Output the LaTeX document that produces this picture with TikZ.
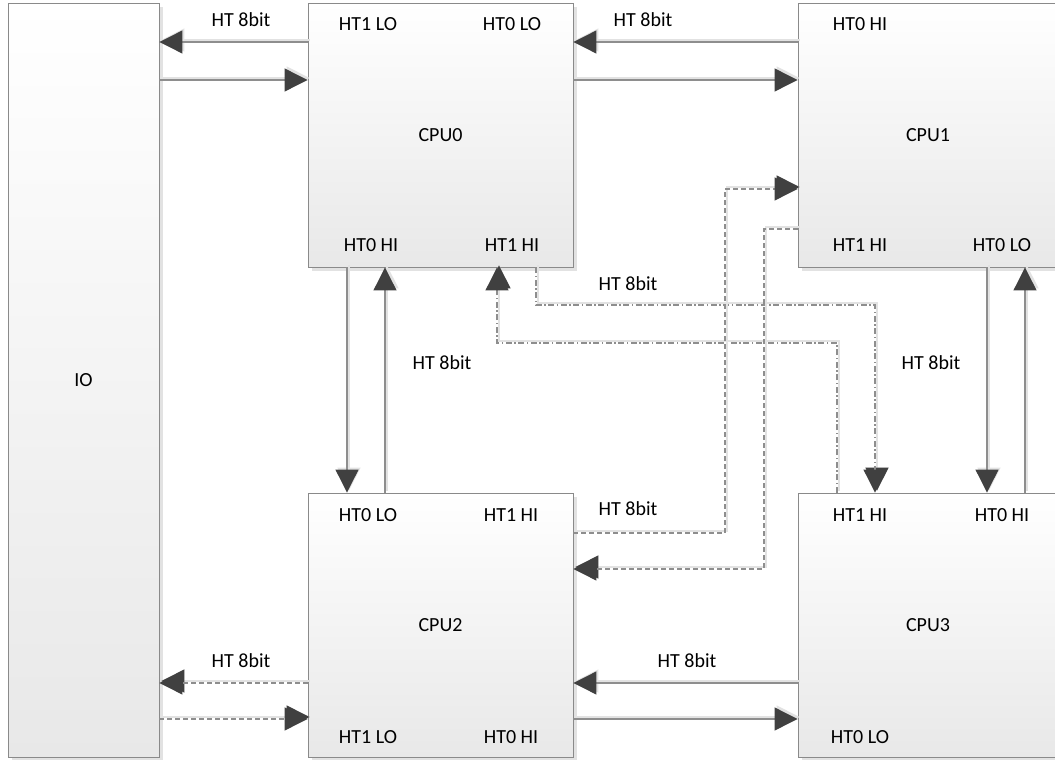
\documentclass[tikz,border=0pt]{standalone}
\usepackage{fontspec}
\setmainfont{Carlito}
\usetikzlibrary{arrows.meta,shadows}
\definecolor{linegray}{HTML}{8E8E8E}
\definecolor{tipgray}{HTML}{404040}
\definecolor{boxline}{HTML}{8A8A8A}
\definecolor{shadowgray}{HTML}{E2E2E2}
\tikzset{
  box/.style={draw=boxline, line width=0.9pt, top color=white, bottom color=black!9,
    drop shadow={shadow xshift=4pt, shadow yshift=-4pt, fill=shadowgray, opacity=1},
    inner sep=0pt, text=black, font=\fontsize{20}{24}\selectfont},
  lbl/.style={font=\fontsize{20}{24}\selectfont, inner sep=0pt, text=black},
  conn/.style={draw=linegray, line width=1.1pt, -{Triangle[length=23pt,width=23pt,fill=tipgray,color=tipgray]},
    preaction={draw=shadowgray, line width=1.6pt, transform canvas={shift={(2pt,2pt)}},
      -{Triangle[length=23pt,width=23pt,fill=shadowgray,color=shadowgray]}}},
  dconn/.style={conn, dash pattern=on 5pt off 3pt,
    preaction={draw=shadowgray, line width=1.4pt, dash pattern=on 5pt off 3pt, transform canvas={shift={(2pt,2pt)}}}},
  ddconn/.style={conn, dash pattern=on 6pt off 2.5pt on 1.5pt off 2.5pt,
    preaction={draw=shadowgray, line width=1.4pt, dash pattern=on 6pt off 2.5pt on 1.5pt off 2.5pt, transform canvas={shift={(2pt,2pt)}}}},
}
\begin{document}
\begin{tikzpicture}[x=1pt,y=-1pt]
\useasboundingbox (0,0) rectangle (1055,760);
% boxes
\node[box, minimum width=151pt, minimum height=754pt] (io) at (83.5,380) {IO};
\node[box, minimum width=265pt, minimum height=264pt] (cpu0) at (440.5,135) {CPU0};
\node[box, minimum width=260pt, minimum height=264pt] (cpu1) at (928,135) {CPU1};
\node[box, minimum width=265pt, minimum height=264pt] (cpu2) at (440.5,625) {CPU2};
\node[box, minimum width=260pt, minimum height=264pt] (cpu3) at (928,625) {CPU3};
% port labels
\node[lbl] (c0a) at (368,24) {HT1 LO};
\node[lbl] (c0b) at (512,24) {HT0 LO};
\node[lbl] (c0c) at (371,245) {HT0 HI};
\node[lbl] (c0d) at (512,245) {HT1 HI};
\node[lbl] (c1a) at (860,24) {HT0 HI};
\node[lbl] (c1b) at (860,245) {HT1 HI};
\node[lbl] (c1c) at (1002,245) {HT0 LO};
\node[lbl] (c2a) at (368,515) {HT0 LO};
\node[lbl] (c2b) at (511,515) {HT1 HI};
\node[lbl] (c2c) at (368,737) {HT1 LO};
\node[lbl] (c2d) at (511,737) {HT0 HI};
\node[lbl] (c3a) at (860,515) {HT1 HI};
\node[lbl] (c3b) at (1002,515) {HT0 HI};
\node[lbl] (c3c) at (860,737) {HT0 LO};
% link labels
\node[lbl] (l1) at (241,20) {HT 8bit};
\node[lbl] (l2) at (643,20) {HT 8bit};
\node[lbl] (l3) at (628,284) {HT 8bit};
\node[lbl] (l4) at (442,363) {HT 8bit};
\node[lbl] (l5) at (931,363) {HT 8bit};
\node[lbl] (l6) at (628,509) {HT 8bit};
\node[lbl] (l7) at (241,661) {HT 8bit};
\node[lbl] (l8) at (687,661) {HT 8bit};
% connectors
\draw[conn] (cpu0.west |- 0,42) -- (io.east |- 0,42);
\draw[conn] (io.east |- 0,80) -- (cpu0.west |- 0,80);
\draw[conn] (cpu1.west |- 0,42) -- (cpu0.east |- 0,42);
\draw[conn] (cpu0.east |- 0,80) -- (cpu1.west |- 0,80);
\draw[conn] (cpu0.south -| 347,0) -- (cpu2.north -| 347,0);
\draw[conn] (cpu2.north -| 385,0) -- (cpu0.south -| 385,0);
\draw[conn] (cpu1.south -| 987,0) -- (cpu3.north -| 987,0);
\draw[conn] (cpu3.north -| 1025,0) -- (cpu1.south -| 1025,0);
\draw[ddconn] (cpu0.south -| 536,0) |- (875,305) -- (cpu3.north -| 875,0);
\draw[ddconn] (cpu3.north -| 837,0) |- (497,343) -- (cpu0.south -| 497,0);
\draw[dconn] (cpu2.east |- 0,533) -| (725,189) -- (cpu1.west |- 0,189);
\draw[dconn] (cpu1.west |- 0,229) -| (764,569) -- (cpu2.east |- 0,569);
\draw[dconn] (cpu2.west |- 0,683) -- (io.east |- 0,683);
\draw[dconn] (io.east |- 0,719) -- (cpu2.west |- 0,719);
\draw[conn] (cpu3.west |- 0,683) -- (cpu2.east |- 0,683);
\draw[conn] (cpu2.east |- 0,719) -- (cpu3.west |- 0,719);
\end{tikzpicture}
\end{document}
